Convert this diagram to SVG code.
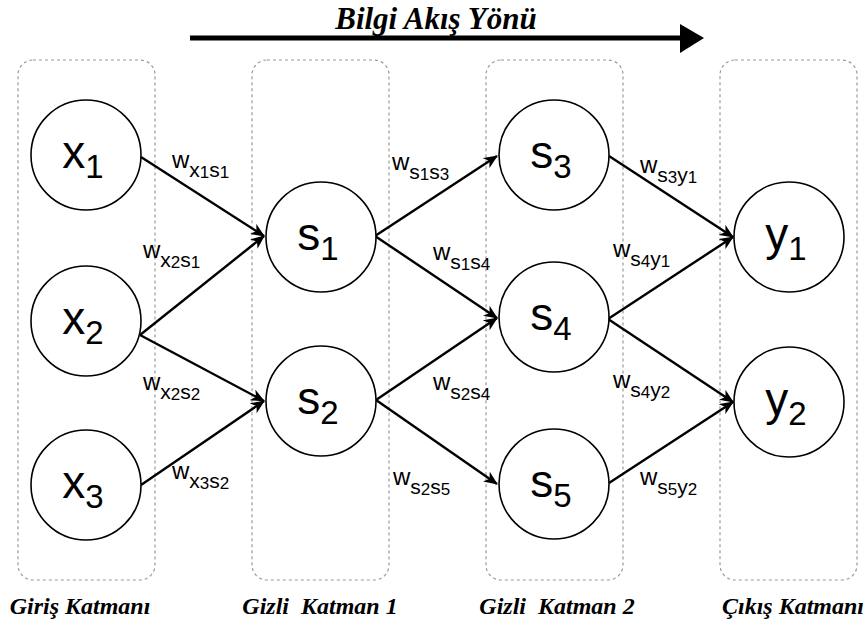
<svg xmlns="http://www.w3.org/2000/svg" width="866" height="625" viewBox="0 0 866 625">
<defs>
<style>
.box{fill:none;stroke:#9a9a9a;stroke-width:1.2;stroke-dasharray:3 3}
.node{fill:#fff;stroke:#000;stroke-width:1.6}
.nl{font-family:"Liberation Sans",Arial,sans-serif;font-size:46px;fill:#000;text-anchor:middle}
.nl .sub{font-size:33px}
.edge{stroke:#000;stroke-width:2.4;fill:none;marker-end:url(#ah)}
.el{font-family:"Liberation Sans",Arial,sans-serif;font-size:24px;fill:#000}
.el .s{font-size:21px}
.el .d{font-size:17px}
.ttl{font-family:"Liberation Serif","Times New Roman",serif;font-weight:bold;font-style:italic;fill:#000}
</style>
<marker id="ah" viewBox="0 0 14 12" refX="13" refY="6" markerWidth="14" markerHeight="12" markerUnits="userSpaceOnUse" orient="auto">
<path d="M0,0 L14,6 L0,12 L4,6 Z" fill="#000"/>
</marker>
</defs>

<g id="title">
<text class="ttl" x="436" y="29" font-size="31" text-anchor="middle">Bilgi Akış Yönü</text>
<line x1="190" y1="38" x2="682" y2="38" stroke="#000" stroke-width="5"/>
<path d="M680,24 L704,38 L680,53 Z" fill="#000"/>
</g>

<g id="layers">
<rect id="layer-input" class="box" x="18" y="60" width="137" height="520" rx="15"/>
<rect id="layer-hidden1" class="box" x="252" y="60" width="137" height="520" rx="15"/>
<rect id="layer-hidden2" class="box" x="486" y="60" width="137" height="520" rx="15"/>
<rect id="layer-output" class="box" x="720" y="60" width="137" height="520" rx="15"/>
</g>

<g id="connectors">
<line class="edge" x1="141" y1="157" x2="264" y2="236"/>
<line class="edge" x1="140" y1="335" x2="264" y2="236"/>
<line class="edge" x1="140" y1="335" x2="264" y2="401"/>
<line class="edge" x1="141" y1="485" x2="264" y2="401"/>
<line class="edge" x1="375" y1="236" x2="497" y2="156"/>
<line class="edge" x1="375" y1="236" x2="497" y2="318"/>
<line class="edge" x1="376" y1="400" x2="497" y2="318"/>
<line class="edge" x1="376" y1="400" x2="497" y2="484"/>
<line class="edge" x1="609" y1="156" x2="733" y2="237"/>
<line class="edge" x1="608" y1="319" x2="733" y2="237"/>
<line class="edge" x1="608" y1="319" x2="733" y2="402"/>
<line class="edge" x1="609" y1="483" x2="733" y2="402"/>
</g>

<g id="edge-labels">
<text class="el" x="172" y="168">w<tspan class="s" dy="9">x</tspan><tspan class="d" dy="1">1</tspan><tspan class="s" dy="-1">s</tspan><tspan class="d" dy="1">1</tspan></text>
<text class="el" x="143" y="258">w<tspan class="s" dy="9">x</tspan><tspan class="d" dy="1">2</tspan><tspan class="s" dy="-1">s</tspan><tspan class="d" dy="1">1</tspan></text>
<text class="el" x="143" y="390">w<tspan class="s" dy="9">x</tspan><tspan class="d" dy="1">2</tspan><tspan class="s" dy="-1">s</tspan><tspan class="d" dy="1">2</tspan></text>
<text class="el" x="172" y="479">w<tspan class="s" dy="9">x</tspan><tspan class="d" dy="1">3</tspan><tspan class="s" dy="-1">s</tspan><tspan class="d" dy="1">2</tspan></text>
<text class="el" x="392" y="170">w<tspan class="s" dy="9">s</tspan><tspan class="d" dy="1">1</tspan><tspan class="s" dy="-1">s</tspan><tspan class="d" dy="1">3</tspan></text>
<text class="el" x="433" y="260">w<tspan class="s" dy="9">s</tspan><tspan class="d" dy="1">1</tspan><tspan class="s" dy="-1">s</tspan><tspan class="d" dy="1">4</tspan></text>
<text class="el" x="433" y="390">w<tspan class="s" dy="9">s</tspan><tspan class="d" dy="1">2</tspan><tspan class="s" dy="-1">s</tspan><tspan class="d" dy="1">4</tspan></text>
<text class="el" x="393" y="485">w<tspan class="s" dy="9">s</tspan><tspan class="d" dy="1">2</tspan><tspan class="s" dy="-1">s</tspan><tspan class="d" dy="1">5</tspan></text>
<text class="el" x="640" y="173">w<tspan class="s" dy="9">s</tspan><tspan class="d" dy="1">3</tspan><tspan class="s" dy="-1">y</tspan><tspan class="d" dy="1">1</tspan></text>
<text class="el" x="613" y="257">w<tspan class="s" dy="9">s</tspan><tspan class="d" dy="1">4</tspan><tspan class="s" dy="-1">y</tspan><tspan class="d" dy="1">1</tspan></text>
<text class="el" x="613" y="388">w<tspan class="s" dy="9">s</tspan><tspan class="d" dy="1">4</tspan><tspan class="s" dy="-1">y</tspan><tspan class="d" dy="1">2</tspan></text>
<text class="el" x="640" y="485">w<tspan class="s" dy="9">s</tspan><tspan class="d" dy="1">5</tspan><tspan class="s" dy="-1">y</tspan><tspan class="d" dy="1">2</tspan></text>
</g>

<g id="x1"><circle class="node" cx="86" cy="155" r="55"/><text class="nl" x="83" y="168">x<tspan class="sub" dy="10">1</tspan></text></g>
<g id="x2"><circle class="node" cx="86" cy="321" r="55"/><text class="nl" x="83" y="334">x<tspan class="sub" dy="10">2</tspan></text></g>
<g id="x3"><circle class="node" cx="86" cy="485" r="55"/><text class="nl" x="83" y="498">x<tspan class="sub" dy="10">3</tspan></text></g>
<g id="s1"><circle class="node" cx="321" cy="237" r="55"/><text class="nl" x="318" y="250">s<tspan class="sub" dy="10">1</tspan></text></g>
<g id="s2"><circle class="node" cx="321" cy="401" r="55"/><text class="nl" x="318" y="414">s<tspan class="sub" dy="10">2</tspan></text></g>
<g id="s3"><circle class="node" cx="554" cy="155" r="55"/><text class="nl" x="551" y="168">s<tspan class="sub" dy="10">3</tspan></text></g>
<g id="s4"><circle class="node" cx="554" cy="317" r="55"/><text class="nl" x="551" y="330">s<tspan class="sub" dy="10">4</tspan></text></g>
<g id="s5"><circle class="node" cx="554" cy="484" r="55"/><text class="nl" x="551" y="497">s<tspan class="sub" dy="10">5</tspan></text></g>
<g id="y1"><circle class="node" cx="789" cy="237" r="55"/><text class="nl" x="786" y="250">y<tspan class="sub" dy="10">1</tspan></text></g>
<g id="y2"><circle class="node" cx="789" cy="402" r="55"/><text class="nl" x="786" y="415">y<tspan class="sub" dy="10">2</tspan></text></g>

<g id="layer-labels">
<text class="ttl" x="80" y="614" font-size="24" text-anchor="middle">Giriş Katmanı</text>
<text class="ttl" x="320" y="614" font-size="24" text-anchor="middle" xml:space="preserve">Gizli  Katman 1</text>
<text class="ttl" x="557" y="614" font-size="24" text-anchor="middle" xml:space="preserve">Gizli  Katman 2</text>
<text class="ttl" x="793" y="614" font-size="24" text-anchor="middle">Çıkış Katmanı</text>
</g>
</svg>
